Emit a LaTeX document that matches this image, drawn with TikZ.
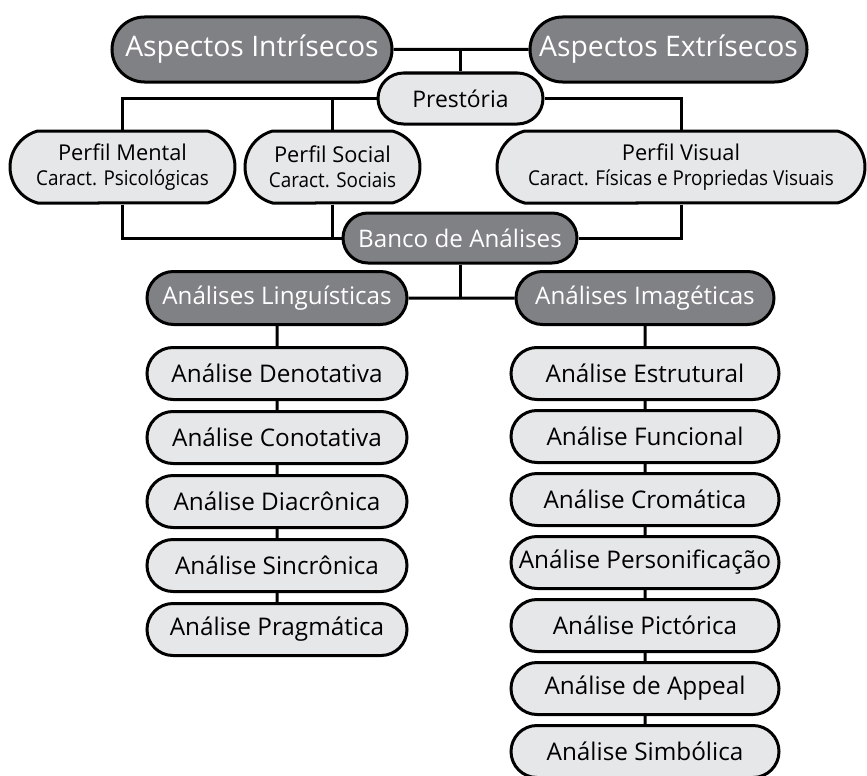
\documentclass[tikz,border=0pt]{standalone}
\usepackage{fontspec}
\setmainfont{Open Sans}
\newfontfamily\condfont[FakeStretch=0.92]{Open Sans}
\usetikzlibrary{shapes.misc}
\definecolor{darkfill}{HTML}{808184}
\definecolor{lightfill}{HTML}{E6E7E8}
\newcommand\subfont{\condfont\fontsize{20.5}{25}\selectfont}

\begin{document}
\begin{tikzpicture}[x=1pt,y=-1pt]
        \tikzstyle{every node} = [rounded rectangle, draw=black, line width=3pt, inner sep=0pt, align=center]
        \tikzstyle{darkbox} = [fill=darkfill, text=white]
        \tikzstyle{lightbox} = [fill=lightfill, text=black]
        \tikzstyle{perfil} = [lightbox, rounded rectangle arc length=150, minimum height=72pt, font=\fontsize{21.8}{25}\selectfont]
        \tikzstyle{item} = [lightbox, minimum height=52pt, font=\fontsize{24.3}{26}\selectfont]
        \tikzstyle{wire} = [line width=3pt]
        \useasboundingbox (0,0) rectangle (867,776);
        % top row
        \node[darkbox, minimum width=280pt, minimum height=65pt, font=\fontsize{28.3}{30}\selectfont] (intr) at (252,49.5) {Aspectos Intrísecos};
        \node[darkbox, minimum width=277pt, minimum height=65pt, font=\fontsize{28.3}{30}\selectfont] (extr) at (668.5,49.5) {Aspectos Extrísecos};
        \node[lightbox, minimum width=165pt, minimum height=51pt, font=\fontsize{22.9}{25}\selectfont] (prest) at (460.5,98.5) {Prestória};
        % perfis
        \node[perfil, minimum width=225pt] (mental) at (122.5,167) {Perfil Mental\\ \subfont Caract. Psicológicas};
        \node[perfil, minimum width=175pt] (social) at (332.5,167) {Perfil Social\\ \subfont Caract. Sociais};
        \node[perfil, minimum width=368pt] (visual) at (681,167) {Perfil Visual\\ \subfont Caract. Físicas e Propriedas Visuais};
        \node[darkbox, minimum width=234pt, minimum height=50pt, font=\fontsize{24.2}{26}\selectfont] (banco) at (460,238) {Banco de Análises};
        \node[darkbox, minimum width=260pt, minimum height=53pt, font=\fontsize{24.2}{26}\selectfont] (ling) at (277,298) {Análises Linguísticas};
        \node[darkbox, minimum width=258pt, minimum height=53pt, font=\fontsize{24.2}{26}\selectfont] (imag) at (645,298) {Análises Imagéticas};
        % columns
        \foreach \i/\txt in {1/Denotativa, 2/Conotativa, 3/Diacrônica, 4/Sincrônica, 5/Pragmática}
            \node[item, minimum width=260pt] (l\i) at (277,{373.5+64*(\i-1)}) {Análise \txt};
        \foreach \i/\txt in {1/Estrutural, 2/Funcional, 3/Cromática, 4/Personificação, 5/Pictórica, 6/de Appeal, 7/Simbólica}
            \node[item, minimum width=268pt] (r\i) at (645,{373.5+63*(\i-1)}) {Análise \txt};
        % connectors
        \draw[wire] (intr) -- (extr);
        \draw[wire] (prest.north) -- (prest.north |- intr.east);
        \draw[wire] (mental.north) |- (prest.west);
        \draw[wire] (visual.north) |- (prest.east);
        \draw[wire] (social.north) -- (social.north |- prest.west);
        \draw[wire] (mental.south) |- (banco.west);
        \draw[wire] (visual.south) |- (banco.east);
        \draw[wire] (social.south) -- (social.south |- banco.west);
        \draw[wire] (banco.south) -- (banco.south |- ling.east);
        \draw[wire] (ling) -- (imag);
        \foreach \from/\to in {ling/l1, l1/l2, l2/l3, l3/l4, l4/l5}
            \draw[wire] (\from) -- (\to);
        \foreach \from/\to in {imag/r1, r1/r2, r2/r3, r3/r4, r4/r5, r5/r6, r6/r7}
            \draw[wire] (\from) -- (\to);
\end{tikzpicture}
\end{document}
